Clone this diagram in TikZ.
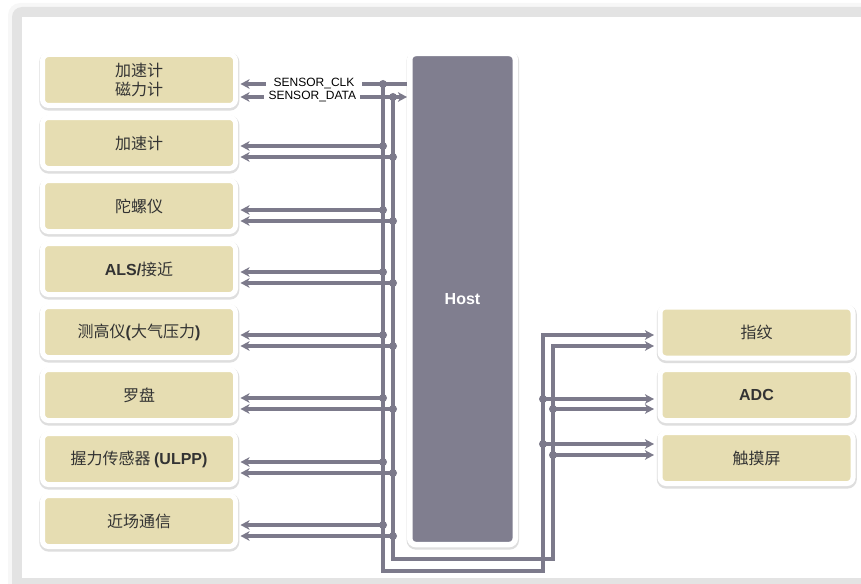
\documentclass[tikz,border=0pt]{standalone}
\usepackage{fontspec}
\setmainfont{Liberation Sans}
\newfontfamily\cjk{Noto Sans CJK SC}
\usetikzlibrary{arrows.meta,shadows,calc}
\definecolor{sensortan}{RGB}{230,221,178}
\definecolor{busgray}{RGB}{124,122,139}
\definecolor{hostgray}{RGB}{128,126,143}
\definecolor{framegray}{RGB}{227,227,227}
\definecolor{textdark}{RGB}{51,51,51}
\newcommand{\bfl}[1]{{\normalfont\bfseries #1}}

\begin{document}
\begin{tikzpicture}[x=1pt,y=-1pt,
    >={Stealth[length=9pt,width=9.5pt,inset=2.5pt]},
    boxshadow/.style={drop shadow={shadow xshift=0.3pt, shadow yshift=-1.6pt, opacity=1,
      fill=black!13, draw=black!13, line width=7pt}},
    sensor/.style={draw=white, line width=5pt, fill=sensortan, rounded corners=6pt,
      minimum width=193pt, minimum height=51pt, inner sep=0pt, align=center,
      font=\cjk\fontsize{16}{19}\selectfont, text=textdark, boxshadow},
    sig/.style={busgray, line width=3.2pt},
    lbl/.style={fill=white, text=black, font=\fontsize{12}{14}\selectfont,
      minimum width=96pt, minimum height=11pt, inner sep=0pt}]
        \useasboundingbox (0,0) rectangle (861,583);

        % Frame
        \fill[black!3, rounded corners=12pt] (8,3) rectangle (880,600);
        \fill[framegray, rounded corners=10pt] (12,7) rectangle (875,595);
        \fill[white] (22,17) rectangle (870,578);

        % Host
        \node[draw=white, line width=5.5pt, fill=hostgray, rounded corners=6pt,
          minimum width=105.5pt, minimum height=491pt, text=white,
          font=\bfseries\fontsize{16}{19}\selectfont, boxshadow] (host) at (462.5,299) {Host};

        % Sensors
        \node[sensor] (accmag) at (139,80) {加速计\\磁力计};
        \node[sensor] (acc) at (139,143) {加速计};
        \node[sensor] (gyro) at (139,206) {陀螺仪};
        \node[sensor] (als) at (139,269) {\bfl{ALS/}接近};
        \node[sensor] (alti) at (139,332) {测高仪\bfl{(}大气压力\bfl{)}};
        \node[sensor] (compass) at (139,395) {罗盘};
        \node[sensor] (grip) at (139,459) {握力传感器 \bfl{(ULPP)}};
        \node[sensor] (nfc) at (139,521) {近场通信};

        % Peripherals
        \node[sensor] (finger) at (756.5,332.5) {指纹};
        \node[sensor] (adc) at (756.5,395) {\bfl{ADC}};
        \node[sensor] (touch) at (756.5,458) {触摸屏};

        % Bus points
        \coordinate (accmag-clk) at (383,84);
        \coordinate (accmag-dat) at (393,97);
        \coordinate (clkturn) at (543,571);
        \coordinate (datturn) at (553,559);
        \coordinate (finger-clk) at (543,335);
        \coordinate (finger-dat) at (553,346);

        % Labelled lines to host
        \draw[sig, <-, shorten <=2.5pt] (accmag.east |- accmag-clk) -- node[lbl, pos=0.45] {SENSOR\_CLK} (host.west |- accmag-clk);
        \draw[sig, <->, shorten >=2.5pt] (host.west |- accmag-dat) -- node[lbl, pos=0.56] {SENSOR\_DATA} (accmag.east |- accmag-dat);

        % Buses
        \draw[sig, ->, shorten >=3.5pt] (accmag-clk) |- (clkturn) -- (finger-clk) -- (finger-clk -| finger.west);
        \draw[sig, ->, shorten >=3.5pt] (accmag-dat) |- (datturn) -- (finger-dat) -- (finger-dat -| finger.west);
        \fill[busgray] (accmag-clk) circle (4pt) (accmag-dat) circle (4pt);

        \foreach \n/\c/\d in {acc/146/157, gyro/210/221, als/272/283, alti/335/346,
            compass/398/409, grip/462/473, nfc/525/536} {
            \coordinate (\n-clk) at (383,\c);
            \coordinate (\n-dat) at (393,\d);
            \draw[sig, ->, shorten >=2.5pt] (\n-clk) -- (\n-clk -| \n.east);
            \draw[sig, ->, shorten >=2.5pt] (\n-dat) -- (\n-dat -| \n.east);
            \fill[busgray] (\n-clk) circle (4pt) (\n-dat) circle (4pt);
        }

        \foreach \n/\c/\d in {adc/399/409, touch/444/455} {
            \coordinate (\n-clk) at (543,\c);
            \coordinate (\n-dat) at (553,\d);
            \draw[sig, ->, shorten >=3.5pt] (\n-clk) -- (\n-clk -| \n.west);
            \draw[sig, ->, shorten >=3.5pt] (\n-dat) -- (\n-dat -| \n.west);
            \fill[busgray] (\n-clk) circle (4pt) (\n-dat) circle (4pt);
        }
\end{tikzpicture}
\end{document}
